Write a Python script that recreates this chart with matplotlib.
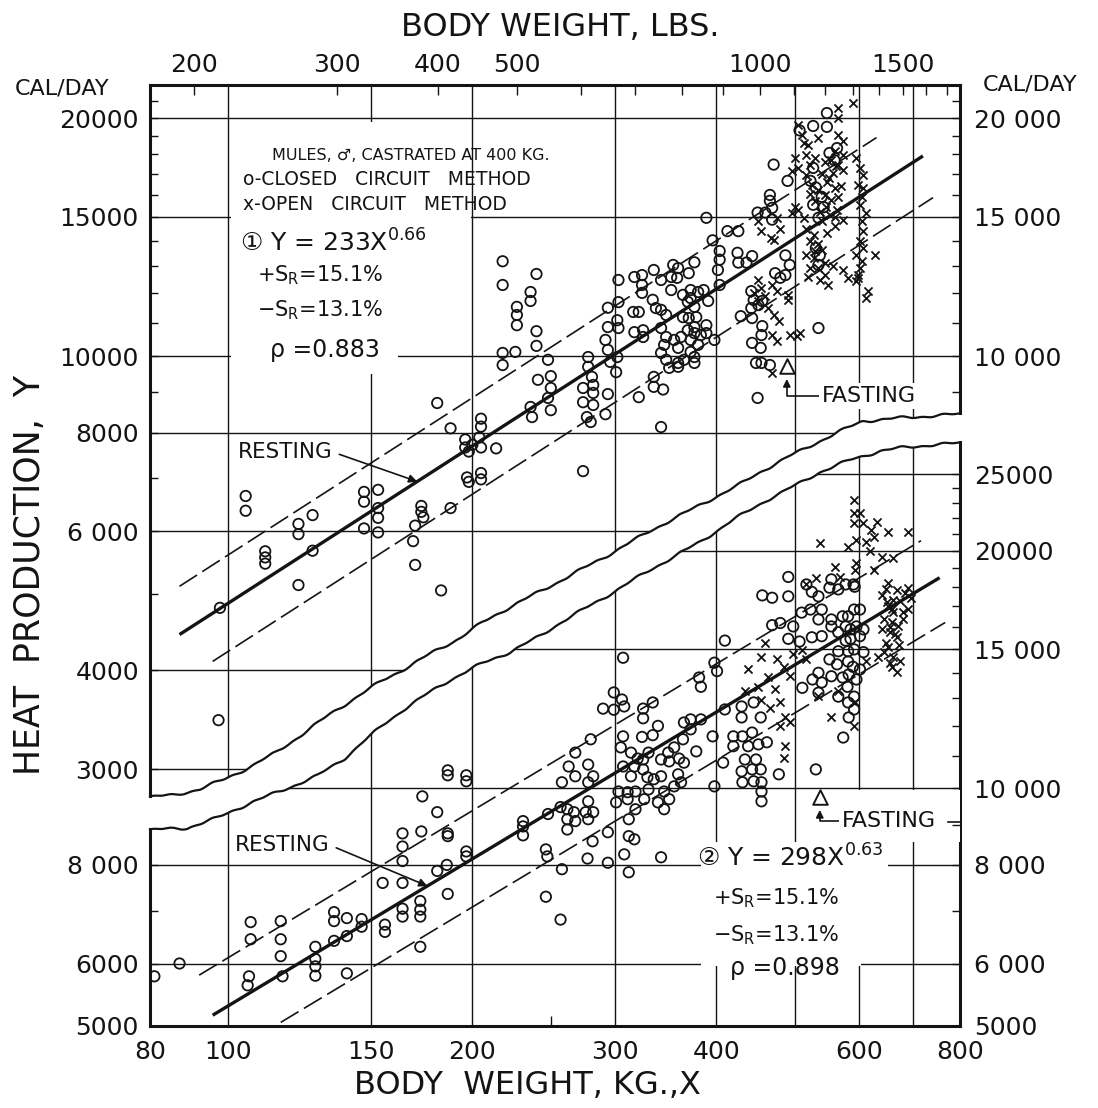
import numpy as np
import matplotlib
matplotlib.use('Agg')
import matplotlib.pyplot as plt
from matplotlib.patches import Polygon, Rectangle
from matplotlib.ticker import FixedLocator, FixedFormatter, NullLocator, NullFormatter

plt.rcParams['font.family'] = ['DejaVu Sans', 'Noto Sans CJK SC']
plt.rcParams['mathtext.fontset'] = 'dejavusans'
plt.rcParams['lines.scale_dashes'] = False

INK = '#141414'

# ---------------- data (kg, cal/day) ----------------
# upper panel: closed circuit (o) and open circuit (x)
UP_CLOSED = [
    (97.2, 3460), (97.6, 4800), (105, 6650), (105, 6370), (111, 5660), (111, 5560), (111, 5460),
    (122, 6130), (122, 5950), (122, 5130), (127, 6290), (127, 5670),
    (147, 6730), (153, 6770), (147, 6540), (153, 6420), (153, 6240), (147, 6050), (153, 5980),
    (173, 6460), (173, 6350), (174, 6250), (170, 6100), (169, 5830), (170, 5440), (183, 5050),
    (181, 8720), (188, 8100), (188, 6420),
    (205, 8330), (205, 8140), (196, 7840), (204, 7890), (196, 7660), (200, 7720), (205, 7660),
    (198, 7570), (214, 7640), (197, 7020), (205, 7110), (198, 6930), (205, 6980),
    (218, 13180), (218, 12300), (240, 12700), (236, 12050), (236, 11740), (227, 11540), (227, 11270),
    (227, 10940), (240, 10750), (240, 10300), (218, 10090), (226, 10120), (218, 9740), (248, 9890),
    (241, 9330), (250, 9430), (250, 9110), (248, 8850), (250, 8540), (236, 8620), (237, 8370), (274, 7150),
    (278, 9970), (278, 9690), (281, 9410), (282, 9190), (282, 8980), (274, 9110), (274, 8740),
    (282, 8670), (277, 8370), (280, 8250), (292, 8440),
    (292, 10480), (294, 10180), (296, 9830), (301, 9540), (294, 8950), (302, 9970),
    (294, 11510), (303, 11700), (302, 11100), (294, 10880), (303, 10850), (303, 12480),
    (317, 12590), (324, 12660), (324, 12300), (324, 12020),
    (316, 11370), (321, 11370), (317, 10720), (325, 10780), (325, 10570), (321, 8870),
    (335, 12850), (342, 12480), (334, 11780), (337, 11500), (342, 11440),
    (354, 13040), (359, 12920), (352, 12590), (358, 12560), (352, 12120), (370, 12730), (376, 13140),
    (347, 11270), (342, 10850), (347, 10570), (345, 10330), (342, 10090), (347, 9890), (350, 9660),
    (359, 9800), (359, 10240), (355, 10480),
    (335, 9410), (335, 9140), (344, 9070), (342, 8130),
    (364, 11950), (372, 12120), (380, 12050), (372, 11840), (369, 11710), (376, 11540),
    (364, 11200), (370, 11170), (378, 11200), (376, 10880), (369, 10780), (362, 10570), (376, 10690),
    (372, 10480), (380, 10330), (372, 10120), (376, 9970), (365, 9890), (359, 9690), (376, 9800),
    (548, 20300), (527, 19550), (548, 19500), (507, 19300), (471, 17470), (490, 16660), (466, 15990),
    (466, 15720), (469, 15400), (450, 15190), (460, 15190), (469, 14880), (389, 14960), (413, 14390),
    (426, 14390), (396, 14010),
    (404, 13580), (404, 13240), (402, 12850), (425, 13510), (426, 13130), (436, 13130), (443, 13380),
    (487, 13410), (493, 13040), (487, 12660), (473, 12730), (480, 12560),
    (404, 12300), (386, 12120), (391, 11740),
    (442, 12080), (445, 11770), (451, 11600), (456, 11740), (442, 11500),
    (429, 11230), (443, 11170), (456, 10910), (455, 10630), (443, 10390), (454, 10240),
    (389, 10940), (383, 10630), (398, 10480), (389, 10690),
    (535, 10850), (448, 9800), (455, 9800), (466, 9740), (450, 8850),
    (527, 17300), (552, 18070), (560, 17690), (564, 18330), (523, 16660), (531, 16340), (540, 15900),
    (527, 15540), (535, 14960), (543, 15430), (531, 13700), (537, 13410), (535, 13040),
]
UP_OPEN = [
    (591, 20900), (566, 20590), (566, 20000), (505, 19600), (510, 19070), (514, 18600), (535, 18900),
    (566, 19070), (573, 18730), (560, 18180), (573, 17960), (555, 17690), (566, 17440), (574, 17180),
    (557, 17030), (500, 17800), (505, 17300), (496, 17140),
    (517, 17960), (523, 17440), (517, 16930), (526, 16480), (523, 16040),
    (552, 16800), (560, 16340), (566, 15900), (555, 15770), (547, 15430), (564, 15310), (573, 14880),
    (500, 15430), (496, 15150), (505, 15310), (450, 14840), (455, 14400), (467, 14100),
    (514, 14960), (517, 14480), (528, 14220), (540, 14840), (523, 13980), (535, 13840), (540, 13620),
    (528, 13310), (535, 12920), (545, 12660), (537, 12480), (523, 12920), (517, 13410),
    (520, 18500), (530, 17800), (545, 17600), (540, 17000), (548, 16600), (535, 16200), (545, 16000),
    (530, 15700), (553, 15100), (538, 15200), (560, 14600), (548, 14300), (530, 13600), (545, 13100),
    (557, 13000), (520, 12600), (550, 12300), (562, 17400), (570, 16400), (560, 15000),
    (596, 17800), (602, 17300), (608, 16930), (598, 16460), (608, 16340), (606, 15900), (602, 15540),
    (612, 15190), (606, 14840), (608, 14390), (602, 13980), (608, 13700), (596, 13410), (606, 13180),
    (602, 12920), (598, 12660), (616, 12090), (596, 12450), (612, 11840),
    (628, 13410), (574, 12850), (582, 12560), (598, 12560),
    (476, 14960), (480, 14480), (471, 14010),
    (450, 12480), (455, 12190), (445, 12020), (460, 11910),
    (469, 12300), (476, 12090), (490, 11950), (491, 11770), (451, 11740), (463, 11500),
    (471, 11270), (478, 11070), (469, 10630), (476, 10450), (493, 10630), (503, 10600), (507, 10690),
    (469, 9520),
]

# lower panel
LO_CLOSED = [
    (81, 5780), (87, 6000),
    (106.5, 6770), (106.5, 6440), (116, 6790), (116, 6440), (116, 6130), (106, 5780), (105.6, 5630),
    (116.6, 5780),
    (128, 6300), (128, 6080), (128, 5950), (128, 5790), (135, 6410), (140, 6500), (135, 6970),
    (135, 6790), (140, 6850), (146, 6830), (146, 6680), (140, 5830),
    (156, 6720), (156, 6580), (164, 7040), (164, 6880), (172.5, 7200), (172.5, 7020), (172.5, 6880),
    (172.5, 6300),
    (155, 7590), (164, 7590), (164, 8090), (164, 8440), (164, 8770), (173, 8820), (173.5, 9770),
    (181, 9330), (186.5, 8770), (186.5, 8700),
    (186.5, 10540), (186.5, 10390), (196.6, 10390), (196.6, 10210), (186.5, 7350), (196.6, 8320),
    (196.6, 8200), (186, 8000), (181, 7860),
    (307, 14640), (299, 13230), (306, 12960), (290, 12620), (299, 12580), (308, 12700),
    (325, 12620), (334, 12850), (325, 12270), (339, 12000), (334, 11680), (324, 11620),
    (307, 11640), (305, 11270), (314, 11100), (320, 10910), (307, 10660), (317, 10660), (325, 10880),
    (330, 11100), (325, 10570), (329, 10330), (314, 10360), (303, 9910), (311, 9890), (318, 9910),
    (301, 9600), (311, 9690), (312, 9140), (318, 9410), (326, 9690), (330, 9970), (335, 10270),
    (342, 10360), (345, 9910), (339, 9600), (345, 9410), (350, 9690), (355, 10060), (362, 10180),
    (359, 10420), (350, 10820), (342, 10880), (349, 11100), (355, 11270), (360, 10910), (365, 10780),
    (364, 11540), (372, 11880), (383, 12230), (365, 12120), (372, 12230), (383, 13450), (381, 13820),
    (378, 11140),
    (258, 10180), (263, 10660), (268, 11100), (280, 11540), (268, 10360), (278, 10720), (282, 10360),
    (278, 10180),
    (257, 9470), (262, 9410), (267, 9330), (262, 9140), (268, 9090), (278, 9630), (276, 9330),
    (282, 9330), (278, 9140), (262, 8870),
    (248, 9280), (231, 9090), (231, 8950), (231, 8720),
    (246.5, 8370), (247.5, 8200), (281.5, 8570), (294, 8800), (312, 8700), (317, 8620),
    (277.5, 8150), (294, 8050), (308, 8250), (312, 7830), (342, 8180), (258, 7900), (246.5, 7290),
    (257, 6820),
    (491, 18530), (456, 17560), (469, 17440), (491, 17510),
    (517, 18130), (525, 17740), (555, 18400), (552, 17960), (535, 17510), (566, 17870), (578, 18130),
    (591, 18130), (593, 18010),
    (469, 16100), (480, 16200), (498, 16040), (510, 16700), (523, 16850), (540, 16850), (535, 16370),
    (555, 16370), (573, 16520), (582, 16520), (592, 16850), (602, 16850), (555, 16040), (578, 16040),
    (586, 15900), (596, 16040), (608, 15900),
    (410, 15390), (398, 14430), (401, 14080),
    (491, 15470), (507, 15350), (525, 15540), (540, 15590), (566, 15770), (578, 15390), (586, 15470),
    (602, 15590), (582, 14920), (566, 14920), (592, 15000), (608, 14880), (552, 14570), (564, 14360),
    (582, 14480), (590, 14260), (602, 14150), (535, 14010), (555, 13870), (573, 13820), (583, 13940),
    (596, 13740), (540, 13620), (526, 13740), (511, 13410), (535, 13220), (566, 13070), (581, 13450),
    (592, 13070), (582, 12850), (592, 12590),
    (430, 12700), (430, 12300), (445, 12850), (454, 12300), (410, 12590), (396, 11640), (420, 11640),
    (431, 11640), (443, 11770), (438, 11310), (420, 11310), (451, 11370), (462, 11440), (408, 10780),
    (434, 10880), (448, 10880), (430, 10510), (443, 10570), (454, 10570), (431, 10180), (445, 10210),
    (455, 10180), (455, 9910), (455, 9630), (478, 10420), (531, 10570), (574, 11600), (583, 12300),
    (398, 10060),
]
LO_OPEN = [
    (592, 23220), (592, 22360), (602, 22360), (592, 21710), (608, 21710), (631, 21780), (622, 21270),
    (652, 21150), (690, 21150),
    (537, 20480), (582, 20250), (596, 20660), (613, 20540), (627, 20840), (619, 19960), (641, 19660),
    (662, 19610),
    (627, 18930), (560, 19100), (568, 18550), (531, 18500), (517, 18130), (594, 18930), (596, 19320),
    (652, 18230), (668, 17860), (690, 17960), (662, 17350), (674, 17250), (695, 17450), (652, 17000),
    (662, 16710), (681, 16710),
    (660, 16230), (670, 16040), (656, 15760), (668, 15570), (652, 15120), (662, 14690), (660, 14270),
    (668, 14060), (633, 14650), (613, 14480),
    (648, 17900), (640, 17600), (650, 17200), (660, 16900), (645, 16400), (655, 16000), (665, 15700),
    (648, 15300), (672, 15200), (640, 15900), (680, 16400), (690, 16900), (685, 17700), (645, 14900),
    (675, 14500), (655, 14400),
    (460, 15300), (455, 14650), (476, 14570), (438, 14150), (463, 13820), (498, 14780), (485, 14270),
    (510, 14990), (517, 14570), (493, 13860), (473, 13350), (455, 12960), (480, 12850), (466, 12660),
    (487, 12300), (493, 12120), (480, 11980), (487, 11300), (485, 10940),
    (555, 12300), (592, 11980), (594, 12850), (565, 13270), (535, 13080), (434, 13270), (450, 13460),
]

# fitted equations as printed, Y = a X^b, with +S_R / -S_R bands
UP_A, UP_B = 233, 0.66
SR_PLUS, SR_MINUS = 0.151, 0.131
LO_LINE = [(95.6, 5160), (755, 18490)]
# drawn extent of each line (kg): solid, +S_R, -S_R
UP_SPAN = [(87, 720), (87, 631), (95.6, 741)]
LO_SPAN = [(95.6, 755), (92, 716), (116, 767)]

UP_FAST = (489, 9700)
LO_FAST = (537, 9740)
UP_REST_KG = 171
LO_REST_KG = 176

X_GRID = [100, 150, 200, 300, 400, 500, 600, 700]
UP_Y_GRID = [3000, 4000, 6000, 8000, 10000, 15000, 20000]
LO_Y_GRID = [6000, 8000, 10000, 15000, 20000, 25000]

# the torn break between the panels (figure pixels, drawn by hand in the original)
UP_BREAK = [(150, 797), (175, 795), (200, 789), (225, 779), (250, 767), (275, 753), (300, 736),
            (330, 714), (360, 695), (383, 680), (410, 666), (433, 652), (460, 638), (483, 622),
            (510, 607), (560, 581), (610, 554), (650, 531), (700, 505), (737, 486), (762, 471),
            (790, 456), (820, 441), (845, 429), (863, 421), (900, 418), (930, 416), (962, 414)]
LO_BREAK = [(150, 830), (187, 828), (217, 818), (250, 803), (283, 790), (317, 776), (345, 758),
            (363, 742), (383, 725), (403, 710), (430, 692), (450, 680), (483, 663), (510, 652),
            (540, 636), (563, 621), (600, 600), (650, 570), (700, 542), (733, 520), (767, 500),
            (800, 483), (820, 472), (850, 460), (880, 451), (900, 448), (930, 445), (962, 443)]

# ---------------- layout ----------------
W, H = 1098, 1108
PX_L, PX_R, PX_T, PX_B = 150, 960, 85, 1026

fig = plt.figure(figsize=(W / 100, H / 100), dpi=100)
fig.patch.set_facecolor('white')
box = [PX_L / W, 1 - PX_B / H, (PX_R - PX_L) / W, (PX_B - PX_T) / H]
axU = fig.add_axes(box)
axL = fig.add_axes(box)
axL.patch.set_visible(False)

for ax in (axU, axL):
    ax.set_xscale('log')
    ax.set_yscale('log')
    ax.set_xlim(80, 800)
    for s in ax.spines.values():
        s.set_visible(False)
axU.set_ylim(1419, 22030)
axL.set_ylim(5000, 77830)


def frac(pts):
    p = np.asarray(pts, float)
    return (p[:, 0] - PX_L) / (PX_R - PX_L), (PX_B - p[:, 1]) / (PX_B - PX_T)


def wavy(pts):
    fx, fy = frac(pts)
    xs = np.linspace(0, 1, 500)
    ys = np.interp(xs, fx, fy) + 0.0011 * np.sin(xs * 97) + 0.0007 * np.sin(xs * 251 + 1)
    return xs, ys


xs, yu = wavy(UP_BREAK)
_, yl = wavy(LO_BREAK)
clipU = Polygon(np.vstack([[[0, 1], [1, 1]], np.column_stack([xs[::-1], yu[::-1]])]),
                closed=True, transform=axU.transAxes)
clipL = Polygon(np.vstack([np.column_stack([xs, yl]), [[1, 0], [0, 0]]]),
                closed=True, transform=axL.transAxes)

# grid, clipped to each panel
for ax, ygrid, clip in ((axU, UP_Y_GRID, clipU), (axL, LO_Y_GRID, clipL)):
    for v in X_GRID:
        ax.axvline(v, color=INK, lw=1.0, zorder=1).set_clip_path(clip)
    for v in ygrid:
        ax.axhline(v, color=INK, lw=1.0, zorder=1).set_clip_path(clip)

# blank areas behind the lettering
for r in [((100.7, 14850), 98.5, 4900), ((100.7, 9500), 61.3, 5350)]:
    axU.add_patch(Rectangle(r[0], r[1], r[2], fc='white', ec='none', zorder=1.5))
for r in [((383, 5950), 221, 2600), ((604, 7930), 48, 620), ((545, 8560), 255, 1390)]:
    axL.add_patch(Rectangle(r[0], r[1], r[2], fc='white', ec='none', zorder=1.5))

# scatter
for ax, closed, opened, clip in ((axU, UP_CLOSED, UP_OPEN, clipU), (axL, LO_CLOSED, LO_OPEN, clipL)):
    c = np.array(closed)
    o = np.array(opened)
    sc = ax.scatter(c[:, 0], c[:, 1], s=56, marker='o', facecolors='none', edgecolors=INK,
                    linewidths=1.3, zorder=3)
    sc.set_clip_path(clip)
    sx = ax.scatter(o[:, 0], o[:, 1], s=34, marker='x', color=INK, linewidths=1.3, zorder=3)
    sx.set_clip_path(clip)

# regression lines and +/- S_R bands
lo_b = np.log(LO_LINE[1][1] / LO_LINE[0][1]) / np.log(LO_LINE[1][0] / LO_LINE[0][0])
lo_a = LO_LINE[0][1] / LO_LINE[0][0] ** lo_b
for ax, a, b, spans in ((axU, UP_A, UP_B, UP_SPAN), (axL, lo_a, lo_b, LO_SPAN)):
    for (lo, hi), f, style in zip(spans, (1.0, 1 + SR_PLUS, 1 - SR_MINUS), ('solid', 'p', 'm')):
        x = np.geomspace(lo, hi, 60)
        if style == 'solid':
            ax.plot(x, f * a * x ** b, color=INK, lw=2.4, zorder=4, solid_capstyle='butt')
        else:
            ax.plot(x, f * a * x ** b, color=INK, lw=1.2, zorder=4, dashes=(15, 4.5))

# fasting points
for ax, pt in ((axU, UP_FAST), (axL, LO_FAST)):
    ax.scatter([pt[0]], [pt[1]], s=110, marker='^', facecolors='white', edgecolors=INK,
               linewidths=1.4, zorder=5)

arrow = dict(arrowstyle='-|>', color=INK, lw=1.2, mutation_scale=11,
             connectionstyle='angle,angleA=0,angleB=90,rad=0', relpos=(0, 0.5),
             shrinkA=0, shrinkB=9)
axU.annotate('FASTING', xy=UP_FAST, xycoords='data', xytext=(0.8296, 0.6695),
             textcoords='axes fraction', ha='left', va='center', fontsize=16, color=INK,
             bbox=dict(fc='white', ec='none', pad=2), arrowprops=arrow, zorder=6)
axL.annotate('FASTING', xy=LO_FAST, xycoords='data', xytext=(0.8543, 0.2179),
             textcoords='axes fraction', ha='left', va='center', fontsize=16, color=INK,
             bbox=dict(fc='white', ec='none', pad=2), arrowprops=arrow, zorder=6)
axL.plot([0.985, 1.0], [0.2168, 0.2168], transform=axL.transAxes, color=INK, lw=1.2,
         clip_on=False, zorder=6)

rest_arrow = dict(arrowstyle='-|>', color=INK, lw=1.2, mutation_scale=12, relpos=(1, 0.5),
                  shrinkA=3, shrinkB=0)
axU.annotate('RESTING', xy=(UP_REST_KG, UP_A * UP_REST_KG ** UP_B), xycoords='data',
             xytext=(0.1086, 0.6100), textcoords='axes fraction', ha='left', va='center',
             fontsize=15.5, color=INK, arrowprops=rest_arrow, zorder=6)
axL.annotate('RESTING', xy=(LO_REST_KG, lo_a * LO_REST_KG ** lo_b), xycoords='data',
             xytext=(0.1049, 0.1923), textcoords='axes fraction', ha='left', va='center',
             fontsize=15.5, color=INK, arrowprops=rest_arrow, zorder=6)

# legend / equation lettering
txt = dict(ha='left', va='center', color=INK, zorder=6)
axU.text(0.1506, 0.9256, 'MULES, ♂, CASTRATED AT 400 KG.', transform=axU.transAxes, fontsize=11.5, **txt)
axU.text(0.1148, 0.9001, 'o-CLOSED   CIRCUIT   METHOD', transform=axU.transAxes, fontsize=13.5, **txt)
axU.text(0.1148, 0.8735, 'x-OPEN   CIRCUIT   METHOD', transform=axU.transAxes, fontsize=13.5, **txt)
axU.text(0.1111, 0.8321, '① Y = 233X$^{0.66}$', transform=axU.transAxes, fontsize=18, **txt)
axU.text(0.1321, 0.7981, r'+S$_\mathrm{R}$=15.1%', transform=axU.transAxes, fontsize=15, **txt)
axU.text(0.1321, 0.7609, r'−S$_\mathrm{R}$=13.1%', transform=axU.transAxes, fontsize=15, **txt)
axU.text(0.1481, 0.7184, 'ρ =0.883', transform=axU.transAxes, fontsize=17, **txt)
axL.text(0.6753, 0.1785, '② Y = 298X$^{0.63}$', transform=axL.transAxes, fontsize=18, **txt)
axL.text(0.6951, 0.1360, r'+S$_\mathrm{R}$=15.1%', transform=axL.transAxes, fontsize=15, **txt)
axL.text(0.6951, 0.0967, r'−S$_\mathrm{R}$=13.1%', transform=axL.transAxes, fontsize=15, **txt)
axL.text(0.7160, 0.0616, 'ρ =0.898', transform=axL.transAxes, fontsize=17, **txt)

# frame: broken at the tear
def fl(x, y):
    axU.plot(x, y, transform=axU.transAxes, color=INK, lw=2.2, clip_on=False, zorder=7,
             solid_capstyle='projecting')


fl([0, 1], [1, 1])
fl([0, 1], [0, 0])
fl([0, 0], [1, yu[0]])
fl([0, 0], [yl[0], 0])
fl([1, 1], [1, yu[-1]])
fl([1, 1], [yl[-1], 0])
for yy in (yu, yl):
    axU.plot(xs, yy, transform=axU.transAxes, color=INK, lw=1.6, clip_on=False, zorder=7)

# ---------------- ticks ----------------
axUr = axU.twinx()
axLr = axL.twinx()
for ax, lim in ((axUr, axU.get_ylim()), (axLr, axL.get_ylim())):
    ax.set_yscale('log')
    ax.set_ylim(lim)
    for s in ax.spines.values():
        s.set_visible(False)


def set_y(ax, majors, labels, minors, right):
    ax.yaxis.set_major_locator(FixedLocator(majors))
    ax.yaxis.set_major_formatter(FixedFormatter(labels))
    ax.yaxis.set_minor_locator(FixedLocator(minors))
    ax.yaxis.set_minor_formatter(NullFormatter())
    ax.tick_params(axis='y', which='both', direction='in', length=6, width=1.0, color=INK,
                   labelsize=18, labelcolor=INK, pad=8 if not right else 10,
                   left=not right, right=right, labelleft=not right, labelright=right)


k = lambda a, b: list(range(a, b + 1, 1000))
set_y(axU, UP_Y_GRID, ['3000', '4000', '6 000', '8000', '10000', '15000', '20000'],
      [5000, 7000, 9000] + k(11000, 14000) + k(16000, 19000) + [21000], False)
set_y(axUr, [10000, 15000, 20000], ['10 000', '15 000', '20 000'],
      [9000] + k(11000, 14000) + k(16000, 19000) + [21000], True)
set_y(axL, [5000, 6000, 8000], ['5000', '6000', '8 000'], [7000], False)
set_y(axLr, [5000, 6000, 8000, 10000, 15000, 20000, 25000],
      ['5000', '6 000', '8 000', '10 000', '15 000', '20000', '25000'],
      [7000, 9000] + k(11000, 14000) + k(16000, 19000) + k(21000, 24000), True)

axU.xaxis.set_major_locator(NullLocator())
axU.xaxis.set_minor_locator(NullLocator())
axL.xaxis.set_major_locator(FixedLocator([80, 100, 150, 200, 300, 400, 600, 800]))
axL.xaxis.set_major_formatter(FixedFormatter(['80', '100', '150', '200', '300', '400', '600', '800']))
axL.xaxis.set_minor_locator(FixedLocator([250]))
axL.xaxis.set_minor_formatter(NullFormatter())
axL.tick_params(axis='x', which='major', length=0, pad=10, labelsize=18, labelcolor=INK)
axL.tick_params(axis='x', which='minor', direction='in', length=7, width=1.0, color=INK)

sec = axU.secondary_xaxis('top', functions=(lambda v: v * 2.2046, lambda v: v / 2.2046))
for s in sec.spines.values():
    s.set_visible(False)
sec.xaxis.set_major_locator(FixedLocator([200, 300, 400, 500, 1000, 1500]))
sec.xaxis.set_major_formatter(FixedFormatter(['200', '300', '400', '500', '1000', '1500']))
sec.xaxis.set_minor_locator(FixedLocator(list(range(200, 1800, 100))))
sec.xaxis.set_minor_formatter(NullFormatter())
sec.tick_params(axis='x', which='both', direction='in', length=7, width=1.0, color=INK,
                labelsize=18, labelcolor=INK, pad=6)

# ---------------- titles ----------------
fig.text(560 / W, 1 - 28 / H, 'BODY WEIGHT, LBS.', ha='center', va='center', fontsize=23, color=INK)
fig.text(527 / W, 1 - 1085 / H, 'BODY  WEIGHT, KG.,X', ha='center', va='center', fontsize=23, color=INK)
fig.text(30 / W, 1 - 575 / H, 'HEAT  PRODUCTION,  Y', ha='center', va='center', rotation=90,
         fontsize=25, color=INK)
fig.text(62 / W, 1 - 88 / H, 'CAL/DAY', ha='center', va='center', fontsize=16, color=INK)
fig.text(1030 / W, 1 - 85 / H, 'CAL/DAY', ha='center', va='center', fontsize=16, color=INK)

fig.savefig('out.png', dpi=100, facecolor='white')
